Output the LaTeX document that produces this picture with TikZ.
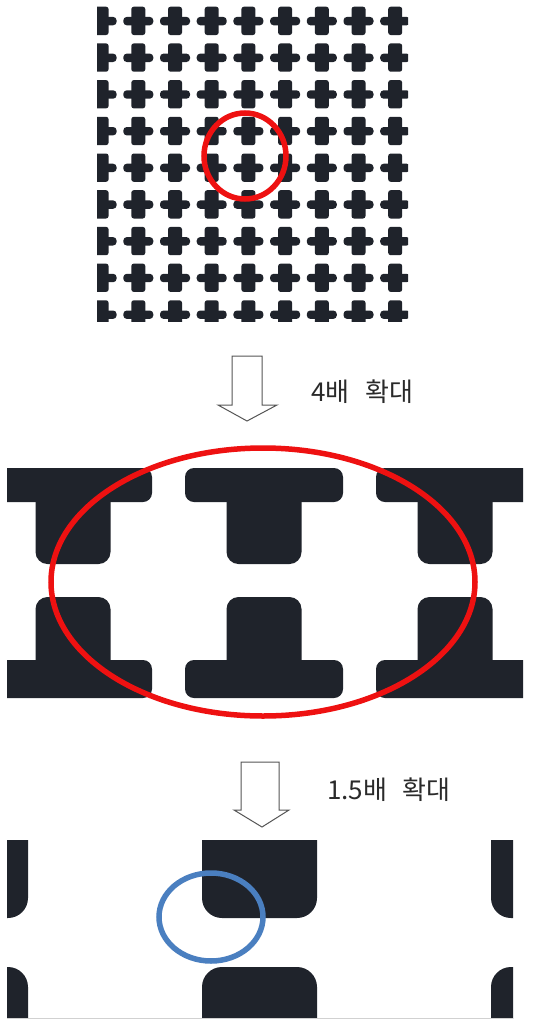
\documentclass[tikz,border=0pt]{standalone}
\usepackage{fontspec}
\newfontfamily\krfont{Noto Sans CJK KR}
\definecolor{darkfill}{HTML}{1F232B}
\definecolor{redring}{HTML}{EE1111}
\definecolor{bluering}{HTML}{4A7FC0}
\definecolor{arrowline}{HTML}{555555}
\definecolor{labeltext}{HTML}{2A2A2A}
\tikzset{
  darkpart/.style={fill=darkfill},
  blockarrow/.style={draw=arrowline, line width=1pt, fill=white, line join=miter},
  ring/.style={line width=5.5pt},
  zoomlabel/.style={font=\krfont\fontsize{26}{30}\selectfont, text=labeltext, anchor=west, inner sep=0pt}
}
\begin{document}
\begin{tikzpicture}[x=1pt,y=-1pt]
\useasboundingbox (0,0) rectangle (539,1031);
\fill[white] (0,0) rectangle (539,1031);

% ---- top grid of crosses ----
\begin{scope}
  \clip (97,6) rectangle (408,321);
  \foreach \j in {0,...,8}{
    \foreach \k in {0,...,8}{
      \pgfmathsetmacro{\cx}{101.6+36.7*\j}
      \pgfmathsetmacro{\ty}{6.7+36.7*\k}
      \fill[darkpart, rounded corners=2.5pt] (\cx-7,\ty) rectangle (\cx+7,\ty+28.3);
      \fill[darkpart, rounded corners=3.5pt] (\cx-15,\ty+10.2) rectangle (\cx+15,\ty+18.6);
    }
  }
\end{scope}
\draw[redring, ring] (245,156) ellipse [x radius=41, y radius=43];

% ---- arrow 1 ----
\draw[blockarrow] (232,356) -- (262,356) -- (262,405) -- (277,405) -- (247,421) -- (218,405) -- (232,405) -- cycle;
\node[zoomlabel] (lab1) at (311,392) {4배\hspace{0.6em}확대};

% ---- middle panel ----
\begin{scope}
  \clip (7,440) rectangle (523,720);
  \foreach \c in {73,264,455}{
    % top row T
    \fill[darkpart, rounded corners=9pt] (\c-79,468) rectangle (\c+79,502);
    \fill[darkpart, rounded corners=12pt] (\c-37.5,480) rectangle (\c+37.5,564);
    % bottom row inverted T
    \fill[darkpart, rounded corners=12pt] (\c-37.5,597) rectangle (\c+37.5,680);
    \fill[darkpart, rounded corners=9pt] (\c-79,660) rectangle (\c+79,698);
  }
\end{scope}
\draw[redring, ring] (263,582) ellipse [x radius=212, y radius=134];

% ---- arrow 2 ----
\draw[blockarrow] (241,762) -- (279,762) -- (279,810) -- (289,810) -- (262,827) -- (234,810) -- (241,810) -- cycle;
\node[zoomlabel] (lab2) at (327,790) {1.5배\hspace{0.6em}확대};

% ---- bottom panel ----
\begin{scope}
  \clip (7,840) rectangle (513,1018);
  \foreach \c in {-29.5,259.5,548.5}{
    \fill[darkpart, rounded corners=20pt] (\c-57.5,790) rectangle (\c+57.5,918);
    \fill[darkpart, rounded corners=20pt] (\c-57.5,967) rectangle (\c+57.5,1070);
  }
\end{scope}
\draw[black!18, line width=0.8pt] (7,1018.5) -- (513,1018.5);
\draw[bluering, ring] (211,917) ellipse [x radius=52, y radius=44];
\end{tikzpicture}
\end{document}
